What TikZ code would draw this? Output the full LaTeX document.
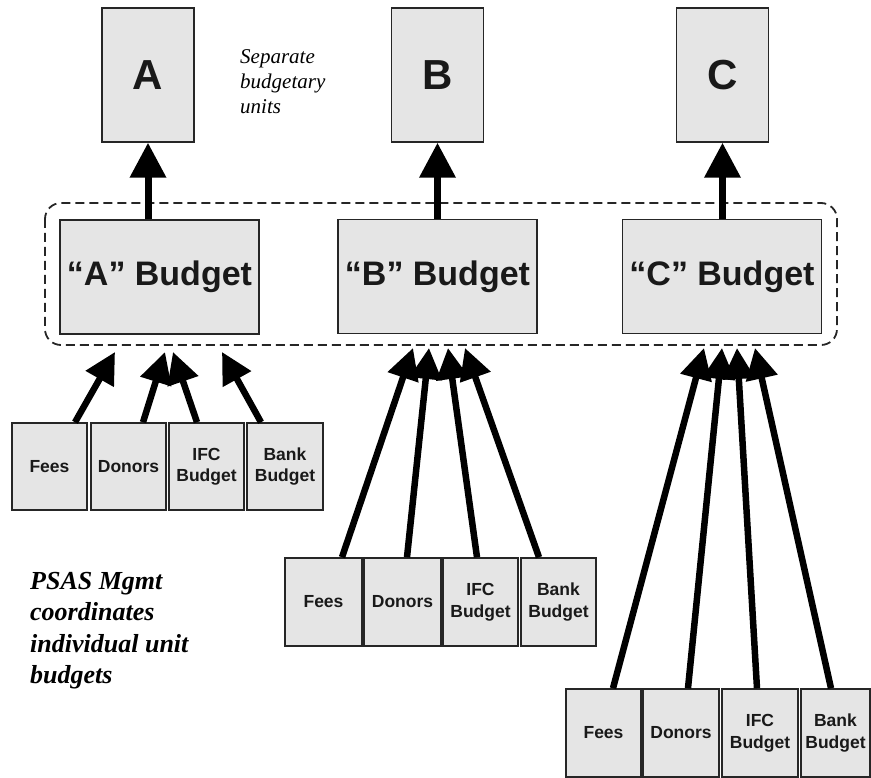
\documentclass[tikz,border=0pt]{standalone}
\usepackage{fontspec}
\setmainfont{Liberation Serif}
\setsansfont{Liberation Sans}
\usetikzlibrary{arrows.meta}
\begin{document}
\begin{tikzpicture}[x=1pt,y=-1pt,
  box/.style={draw=black!85, line width=1.5pt, fill=black!10, inner sep=0pt, font=\sffamily\bfseries, text=black!90},
  unitbox/.style={box, minimum width=92pt, minimum height=134pt, font=\sffamily\bfseries\fontsize{42}{48}\selectfont},
  budgetbox/.style={box, minimum width=199pt, minimum height=114pt, font=\sffamily\bfseries\fontsize{34}{40}\selectfont},
  srcbox/.style={box, minimum width=76pt, align=center, font=\sffamily\bfseries\fontsize{17.5}{21.5}\selectfont},
  bigarrow/.style={line width=7pt, -{Triangle[width=35pt,length=35pt]}},
  srcarrow/.style={line width=6.5pt, -{Triangle[width=31pt,length=31pt]}},
  note/.style={inner sep=0pt, align=left}
]
\useasboundingbox (0,0) rectangle (871,778);

% dashed coordination frame
\draw[black!85, line width=1.8pt, dash pattern=on 9pt off 5pt, rounded corners=16pt] (45,203) rectangle (837,345);

% separate budgetary units
\node[unitbox] (A) at (148,75) {A};
\node[unitbox] (B) at (437.5,75) {B};
\node[unitbox] (C) at (722.5,75) {C};

% unit budgets
\node[budgetbox] (Ab) at (159.5,277) {“A” Budget};
\node[budgetbox] (Bb) at (437.5,276.5) {“B” Budget};
\node[budgetbox] (Cb) at (722,276.5) {“C” Budget};

\draw[bigarrow] (Ab.north -| A.south) -- (A.south);
\draw[bigarrow] (Bb.north -| B.south) -- (B.south);
\draw[bigarrow] (Cb.north -| C.south) -- (C.south);

% source boxes, row A
\begin{scope}[srcbox/.append style={minimum height=87pt}]
\node[srcbox, minimum width=75pt] (Af) at (49.5,466.5) {Fees};
\node[srcbox, minimum width=75pt] (Ad) at (128.5,466.5) {Donors};
\node[srcbox, minimum width=75pt] (Ai) at (206.5,466.5) {IFC\\Budget};
\node[srcbox, minimum width=76pt] (Ak) at (285,466.5) {Bank\\Budget};
\end{scope}
% rows B and C
\begin{scope}[srcbox/.append style={minimum height=88pt}]
\node[srcbox, minimum width=77pt] (Bf) at (323.5,602) {Fees};
\node[srcbox, minimum width=77pt] (Bd) at (402.5,602) {Donors};
\node[srcbox, minimum width=75pt] (Bi) at (480.5,602) {IFC\\Budget};
\node[srcbox, minimum width=75pt] (Bk) at (558.5,602) {Bank\\Budget};
\node[srcbox, minimum width=75pt] (Cf) at (603.5,733) {Fees};
\node[srcbox, minimum width=76pt] (Cd) at (681,733) {Donors};
\node[srcbox, minimum width=76pt] (Ci) at (760,733) {IFC\\Budget};
\node[srcbox, minimum width=69pt] (Ck) at (835.5,733) {Bank\\Budget};
\end{scope}

% arrow tips below the frame
\coordinate (tA1) at (115,352);
\coordinate (tA2) at (165,352);
\coordinate (tA3) at (173,352);
\coordinate (tA4) at (222,352);
\coordinate (tB1) at (413,348);
\coordinate (tB2) at (429,348);
\coordinate (tB3) at (448,348);
\coordinate (tB4) at (465,348);
\coordinate (tC1) at (704,348);
\coordinate (tC2) at (722,348);
\coordinate (tC3) at (737,348);
\coordinate (tC4) at (755,348);

\draw[srcarrow] ([xshift=25.5pt]Af.north) -- (tA1);
\draw[srcarrow] ([xshift=14.5pt]Ad.north) -- (tA2);
\draw[srcarrow] ([xshift=-9.5pt]Ai.north) -- (tA3);
\draw[srcarrow] ([xshift=-24pt]Ak.north) -- (tA4);

\draw[srcarrow] ([xshift=18.5pt]Bf.north) -- (tB1);
\draw[srcarrow] ([xshift=4.5pt]Bd.north) -- (tB2);
\draw[srcarrow] ([xshift=-3.5pt]Bi.north) -- (tB3);
\draw[srcarrow] ([xshift=-19.5pt]Bk.north) -- (tB4);

\draw[srcarrow] ([xshift=9.5pt]Cf.north) -- (tC1);
\draw[srcarrow] ([xshift=7pt]Cd.north) -- (tC2);
\draw[srcarrow] ([xshift=-3pt]Ci.north) -- (tC3);
\draw[srcarrow] ([xshift=-4.5pt]Ck.north) -- (tC4);

% notes
\node[note, anchor=north west, font=\itshape\fontsize{21}{25}\selectfont] (sep) at (240,49) {Separate\\budgetary\\units};
\node[note, anchor=north west, font=\bfseries\itshape\fontsize{26}{31.5}\selectfont] (psas) at (30,572) {PSAS Mgmt\\coordinates\\individual unit\\budgets};
\end{tikzpicture}
\end{document}
